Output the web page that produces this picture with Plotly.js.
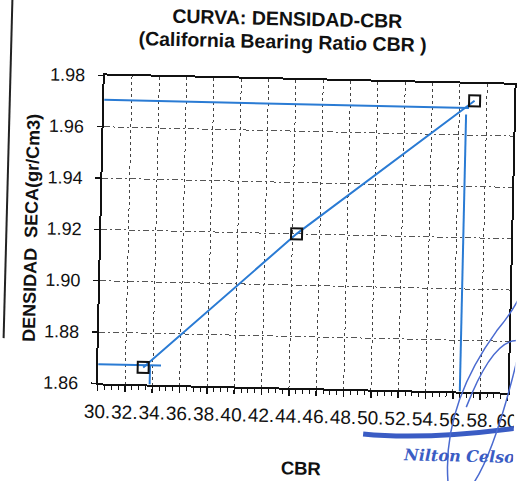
<!DOCTYPE html>
<html>
<head>
<meta charset="utf-8">
<script src="https://cdn.plot.ly/plotly-3.0.1.min.js"></script>
<style>
  html, body { margin: 0; padding: 0; background: #fff; overflow: hidden; }
  #chart { width: 518px; height: 481px; transform: rotate(1.3deg); transform-origin: 50% 50%; }
</style>
</head>
<body>
<div id="chart"></div>
<script>
// ---- data ----
const cbrValues = [33.3, 44.3, 57.1];
const densityValues = [1.8666, 1.92, 1.9734];

// guide lines (max density / CBR read-off, and low point read-off)
const upperGuideX = [30, 56.7];
const upperGuideY = [1.9705, 1.9705];
const upperDropX = [56.5, 56.5];
const upperDropY = [1.968, 1.86];
const lowerGuideX = [30, 34.6];
const lowerGuideY = [1.8675, 1.8675];
const lowerDropX = [33.8, 33.8];
const lowerDropY = [1.8675, 1.86];

const xTickVals = [30, 32, 34, 36, 38, 40, 42, 44, 46, 48, 50, 52, 54, 56, 58, 60];
const xTickText = ['30.', '32.', '34.', '36.', '38.', '40.', '42.', '44.', '46.', '48.', '50.', '52.', '54.', '56.', '58.', '60'];
const yTickVals = [1.86, 1.88, 1.90, 1.92, 1.94, 1.96, 1.98];
const yTickText = ['1.86', '1.88', '1.90', '1.92', '1.94', '1.96', '1.98'];

const titleLine1 = 'CURVA: DENSIDAD-CBR';
const titleLine2 = '(California Bearing Ratio CBR )';

const blue = '#2a7bd4';
const guideStyle = { color: blue, width: 2 };

const traces = [
  { x: upperGuideX, y: upperGuideY, mode: 'lines', line: guideStyle, hoverinfo: 'skip', showlegend: false },
  { x: upperDropX, y: upperDropY, mode: 'lines', line: guideStyle, hoverinfo: 'skip', showlegend: false },
  { x: lowerGuideX, y: lowerGuideY, mode: 'lines', line: guideStyle, hoverinfo: 'skip', showlegend: false },
  { x: lowerDropX, y: lowerDropY, mode: 'lines', line: guideStyle, hoverinfo: 'skip', showlegend: false },
  {
    x: cbrValues, y: densityValues, mode: 'lines+markers', showlegend: false,
    line: { color: blue, width: 2 },
    marker: { symbol: 'square-open', size: 11, color: '#111', line: { width: 2, color: '#111' } },
    cliponaxis: false
  }
];

const layout = {
  width: 518, height: 481,
  margin: { l: 101, r: 7, t: 79, b: 94 },
  paper_bgcolor: 'rgba(0,0,0,0)',
  plot_bgcolor: '#fff',
  font: { family: 'Liberation Sans, Arial, sans-serif', color: '#111' },
  title: {
    text: '<b>' + titleLine1 + '</b>',
    font: { size: 19.5, color: '#111', family: 'Liberation Sans, Arial, sans-serif' },
    x: 0.545, xref: 'container', xanchor: 'center',
    y: 1 - 18 / 481, yref: 'container', yanchor: 'middle'
  },
  xaxis: {
    range: [30, 60],
    tickvals: xTickVals, ticktext: xTickText,
    tickfont: { size: 19 },
    tickangle: 0,
    ticklabeloverflow: 'allow',
    ticks: 'outside', ticklen: 6, tickwidth: 1.5, tickcolor: '#111',
    ticklabelstandoff: 4,
    minor: { dtick: 0.5, ticks: 'outside', ticklen: 4, tickcolor: '#111', tickwidth: 1, showgrid: false },
    showline: true, linecolor: '#111', linewidth: 2, mirror: true,
    showgrid: true, gridcolor: '#444', gridwidth: 1, griddash: '3px,3px',
    zeroline: false,
    title: { text: '<b>CBR</b>', font: { size: 18.5 }, standoff: 36 }
  },
  yaxis: {
    range: [1.86, 1.98],
    tickvals: yTickVals, ticktext: yTickText,
    tickfont: { size: 18 },
    ticks: 'outside', ticklen: 5, tickwidth: 1.5, tickcolor: '#111',
    ticklabelstandoff: 9,
    showline: true, linecolor: '#111', linewidth: 2, mirror: true,
    showgrid: true, gridcolor: '#555', gridwidth: 1, griddash: '6px,3px,2px,3px',
    zeroline: false,
    title: { text: '<b>DENSIDAD  SECA(gr/Cm3)</b>', font: { size: 18 }, standoff: 4 }
  },
  shapes: [
    // page border from the scanned sheet
    { type: 'line', xref: 'paper', yref: 'paper', x0: -0.229, x1: -0.232, y0: 1.35, y1: 0.14,
      line: { color: '#222', width: 2 } },
    // signature strokes
    { type: 'path', xref: 'paper', yref: 'paper',
      path: 'M 0.65 -0.145 Q 0.8 -0.16 1.02 -0.115',
      line: { color: '#3a5cc4', width: 5 } },
    { type: 'path', xref: 'paper', yref: 'paper',
      path: 'M 0.86 -0.3 Q 0.84 -0.05 0.97 0.2 Q 1.0 0.25 1.02 0.3',
      line: { color: '#4a6ad0', width: 1.5 } },
    { type: 'path', xref: 'paper', yref: 'paper',
      path: 'M 0.9 -0.05 Q 0.96 0.17 1.02 0.17',
      line: { color: '#4a6ad0', width: 1.5 } },
    { type: 'path', xref: 'paper', yref: 'paper',
      path: 'M 0.92 -0.3 Q 0.97 -0.2 1.02 0.1',
      line: { color: '#4a6ad0', width: 1.5 } }
  ],
  annotations: [
    { text: '<b>' + titleLine2 + '</b>', xref: 'paper', yref: 'paper',
      x: (278 - 101) / 410, y: 1 + (79 - 41) / 308, xanchor: 'center', yanchor: 'middle', showarrow: false,
      font: { size: 19.5, color: '#111', family: 'Liberation Sans, Arial, sans-serif' } },
    { text: '<b><i>Nilton Celso</i></b>', xref: 'paper', yref: 'paper', x: 0.745, y: -0.21,
      xanchor: 'left', yanchor: 'middle', showarrow: false,
      font: { size: 16, color: '#3a5cc4', family: 'DejaVu Serif, serif' } }
  ]
};

Plotly.newPlot('chart', traces, layout, { displayModeBar: false, staticPlot: true });
</script>
</body>
</html>
